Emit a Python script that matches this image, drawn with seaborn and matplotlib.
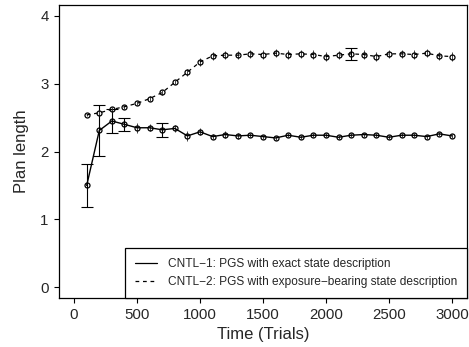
import numpy as np
import pandas as pd
import matplotlib
matplotlib.use("Agg")
import matplotlib.pyplot as plt
from matplotlib.lines import Line2D
import seaborn as sns

# data
trials = np.arange(100, 3001, 100)
cntl1 = [1.50, 2.31, 2.45, 2.40, 2.35, 2.35, 2.32, 2.34, 2.23, 2.29,
         2.22, 2.25, 2.23, 2.24, 2.22, 2.20, 2.24, 2.21, 2.24, 2.24,
         2.21, 2.24, 2.25, 2.24, 2.21, 2.24, 2.24, 2.22, 2.26, 2.23]
cntl1_err = [0.32, 0.38, 0.17, 0.10, 0.07, 0.05, 0.10, 0.05, 0.07, 0.05,
             0.04, 0.05, 0.04, 0.03, 0.03, 0.03, 0.03, 0.03, 0.03, 0.03,
             0.03, 0.03, 0.03, 0.03, 0.03, 0.03, 0.03, 0.03, 0.03, 0.03]
cntl2 = [2.54, 2.57, 2.62, 2.66, 2.71, 2.78, 2.87, 3.02, 3.17, 3.32,
         3.41, 3.42, 3.42, 3.44, 3.43, 3.45, 3.43, 3.44, 3.43, 3.40,
         3.42, 3.44, 3.43, 3.40, 3.44, 3.44, 3.43, 3.45, 3.41, 3.40]
cntl2_err = [0.02, 0.04, 0.04, 0.03, 0.03, 0.04, 0.03, 0.03, 0.05, 0.06,
             0.06, 0.06, 0.06, 0.06, 0.06, 0.06, 0.06, 0.06, 0.06, 0.06,
             0.06, 0.09, 0.06, 0.07, 0.06, 0.06, 0.06, 0.06, 0.06, 0.06]
labels = ["CNTL\u22121: PGS with exact state description",
          "CNTL\u22122: PGS with exposure\u2212bearing state description"]

sns.set_theme(style="ticks")
plt.rcParams['font.family'] = ['Liberation Sans', 'DejaVu Sans']

fig = plt.figure(figsize=(4.69, 3.47), dpi=100)
ax = fig.add_axes([0.1258, 0.1412, 0.8699, 0.8444])

df = pd.DataFrame({"trials": trials, "c1": cntl1, "c2": cntl2})

# error bars: big ones with caps, small ones plain
for y, e in [(cntl1, cntl1_err), (cntl2, cntl2_err)]:
    y = np.array(y)
    e = np.array(e)
    big = e >= 0.09
    if big.any():
        ax.errorbar(trials[big], y[big], yerr=e[big], fmt='none', ecolor='black',
                    elinewidth=0.8, capsize=4, capthick=0.8, zorder=2)
    ax.errorbar(trials[~big], y[~big], yerr=e[~big], fmt='none', ecolor='#444444',
                elinewidth=0.7, capsize=0, zorder=2)

sns.lineplot(data=df, x="trials", y="c1", ax=ax, color='black', lw=1.0,
             marker='o', ms=3.6, mfc='none', mec='black', mew=0.9, zorder=3)
sns.lineplot(data=df, x="trials", y="c2", ax=ax, color='black', lw=0.9,
             linestyle='--', marker='o', ms=3.6, mfc='none', mec='black',
             mew=0.9, zorder=3)
ax.lines[-1].set_dashes((3, 3))

ax.set_xlim(-120, 3120)
ax.set_ylim(-0.16, 4.16)
ax.set_xticks(range(0, 3001, 500))
ax.set_yticks(range(0, 5))
ax.set_xlabel("Time (Trials)", fontsize=12, labelpad=3)
ax.set_ylabel("Plan length", fontsize=12, labelpad=8)
ax.tick_params(labelsize=10.8, length=3.5, width=0.8, color='black', pad=4)

for s in ax.spines.values():
    s.set_visible(True)
    s.set_color('black')
    s.set_linewidth(0.9)

handles = [Line2D([], [], color='black', lw=0.9),
           Line2D([], [], color='black', lw=0.9, dashes=(3, 3))]
leg = ax.legend(handles, labels, loc='lower right', fontsize=8.6,
                frameon=True, fancybox=False, framealpha=1, edgecolor='black',
                borderaxespad=0, handlelength=1.8, handletextpad=0.9,
                borderpad=0.85, labelspacing=0.45)
leg.get_frame().set_linewidth(0.9)

fig.savefig("out.png", dpi=100)
